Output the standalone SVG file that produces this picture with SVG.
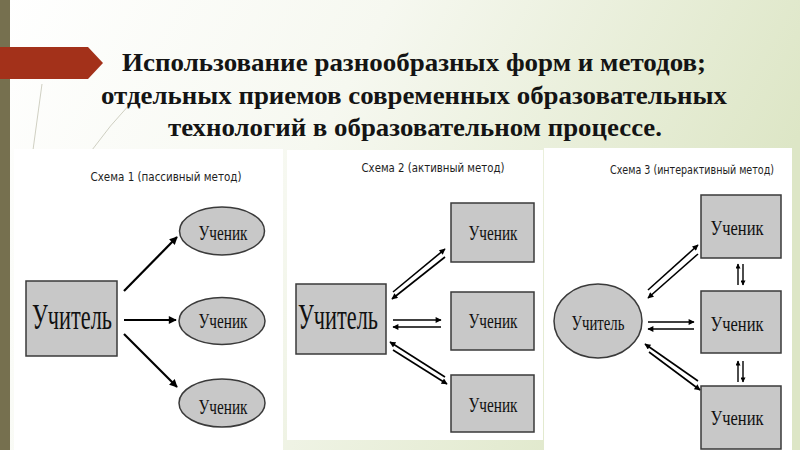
<svg xmlns="http://www.w3.org/2000/svg" width="800" height="450" viewBox="0 0 800 450">
<defs>
<linearGradient id="bg" x1="0" y1="0" x2="1" y2="0.3">
<stop offset="0" stop-color="#ffffff"/>
<stop offset="0.45" stop-color="#f6f8f0"/>
<stop offset="1" stop-color="#dde6c6"/>
</linearGradient>
<marker id="ah" viewBox="0 0 10 10" refX="9" refY="5" markerWidth="10" markerHeight="8" markerUnits="userSpaceOnUse" orient="auto">
<path d="M0,0 L10,5 L0,10 Z" fill="#000"/>
</marker>
<marker id="ahs" viewBox="0 0 10 10" refX="9" refY="5" markerWidth="8" markerHeight="6" markerUnits="userSpaceOnUse" orient="auto">
<path d="M0,0 L10,5 L0,10 Z" fill="#000"/>
</marker>
<marker id="aht" viewBox="0 0 10 10" refX="9" refY="5" markerWidth="6" markerHeight="5" markerUnits="userSpaceOnUse" orient="auto">
<path d="M0,0 L10,5 L0,10 Z" fill="#000"/>
</marker>
</defs>
<style>
.title{font-family:"Liberation Serif","Times New Roman",serif;font-weight:bold;font-size:26px;fill:#141414;text-anchor:middle}
.cap{font-family:"Liberation Sans Narrow","DejaVu Sans Condensed","Liberation Sans",sans-serif;font-size:13px;fill:#1e1e1e;text-anchor:middle}
.lbl{font-family:"Liberation Serif","Times New Roman",serif;fill:#111;text-anchor:middle}
.box{fill:#c8c8c8;stroke:#3a3a3a;stroke-width:1.5}
.panel{fill:#ffffff}
.a1{stroke:#000;stroke-width:2.2;fill:none;marker-end:url(#ah)}
.a2{stroke:#000;stroke-width:1.6;fill:none;marker-end:url(#ahs)}
.a3{stroke:#000;stroke-width:1.4;fill:none;marker-end:url(#aht)}
.deco{stroke:#c4c4b4;stroke-width:0.8;fill:none}
</style>
<rect x="0" y="0" width="800" height="450" fill="url(#bg)"/>
<path class="deco" d="M42,84 L33,150"/>
<path class="deco" d="M130,104 Q110,125 92,150"/>
<rect x="0" y="0" width="10" height="450" fill="#76704f"/>
<path d="M0,47 L88,47 L103,63 L88,79 L0,79 Z" fill="#a3311a"/>
<g id="title">
<text class="title" x="414" y="71" textLength="584" lengthAdjust="spacingAndGlyphs">Использование разнообразных форм и методов;</text>
<text class="title" x="414" y="104" textLength="626" lengthAdjust="spacingAndGlyphs">отдельных приемов современных образовательных</text>
<text class="title" x="415" y="136" textLength="494" lengthAdjust="spacingAndGlyphs">технологий в образовательном процессе.</text>
</g>
<rect class="panel" x="14" y="149" width="269" height="301"/>
<rect class="panel" x="287" y="150" width="256" height="290"/>
<rect class="panel" x="544" y="148" width="248" height="302"/>
<g id="scheme1">
<text class="cap" x="166" y="181" textLength="151" lengthAdjust="spacingAndGlyphs">Схема 1 (пассивный метод)</text>
<g id="s1-teacher"><rect class="box" x="26" y="281" width="91" height="75"/><text class="lbl" x="72" y="329" font-size="36" textLength="80" lengthAdjust="spacingAndGlyphs">Учитель</text></g>
<g id="s1-student1"><ellipse class="box" cx="222" cy="231" rx="42.5" ry="24"/><text class="lbl" x="223" y="240" font-size="21" textLength="49" lengthAdjust="spacingAndGlyphs">Ученик</text></g>
<g id="s1-student2"><ellipse class="box" cx="222" cy="321" rx="43" ry="23.5"/><text class="lbl" x="223" y="328" font-size="21" textLength="49" lengthAdjust="spacingAndGlyphs">Ученик</text></g>
<g id="s1-student3"><ellipse class="box" cx="222" cy="403" rx="43" ry="24"/><text class="lbl" x="223" y="414" font-size="21" textLength="49" lengthAdjust="spacingAndGlyphs">Ученик</text></g>
</g>
<g id="scheme2">
<text class="cap" x="433" y="172" textLength="143" lengthAdjust="spacingAndGlyphs">Схема 2 (активный метод)</text>
<g id="s2-teacher"><rect class="box" x="296" y="284" width="90" height="70"/><text class="lbl" x="338" y="329" font-size="35" textLength="80" lengthAdjust="spacingAndGlyphs">Учитель</text></g>
<g id="s2-student1"><rect class="box" x="451" y="203" width="83" height="59"/><text class="lbl" x="493" y="240" font-size="21" textLength="49" lengthAdjust="spacingAndGlyphs">Ученик</text></g>
<g id="s2-student2"><rect class="box" x="451" y="292" width="83" height="58"/><text class="lbl" x="493" y="328" font-size="21" textLength="49" lengthAdjust="spacingAndGlyphs">Ученик</text></g>
<g id="s2-student3"><rect class="box" x="451" y="375" width="83" height="57"/><text class="lbl" x="493" y="412" font-size="21" textLength="49" lengthAdjust="spacingAndGlyphs">Ученик</text></g>
</g>
<g id="scheme3">
<text class="cap" x="692" y="174" textLength="164" lengthAdjust="spacingAndGlyphs">Схема 3 (интерактивный метод)</text>
<g id="s3-teacher"><ellipse class="box" cx="598" cy="321" rx="44" ry="37"/><text class="lbl" x="598" y="330" font-size="21" textLength="53" lengthAdjust="spacingAndGlyphs">Учитель</text></g>
<g id="s3-student1"><rect class="box" x="701" y="195" width="80" height="63"/><text class="lbl" x="737" y="235" font-size="21" textLength="53" lengthAdjust="spacingAndGlyphs">Ученик</text></g>
<g id="s3-student2"><rect class="box" x="701" y="291" width="80" height="62"/><text class="lbl" x="737" y="331" font-size="21" textLength="53" lengthAdjust="spacingAndGlyphs">Ученик</text></g>
<g id="s3-student3"><rect class="box" x="701" y="386" width="80" height="63"/><text class="lbl" x="737" y="425" font-size="21" textLength="53" lengthAdjust="spacingAndGlyphs">Ученик</text></g>
</g>
<g id="connectors">
<line class="a1" x1="124" y1="291" x2="177" y2="237"/>
<line class="a1" x1="124" y1="320" x2="176" y2="320"/>
<line class="a1" x1="124" y1="334" x2="177" y2="387"/>
<line class="a2" x1="393" y1="292" x2="445" y2="249"/>
<line class="a2" x1="445" y1="257" x2="392" y2="299"/>
<line class="a2" x1="393" y1="320" x2="441" y2="320"/>
<line class="a2" x1="441" y1="327" x2="393" y2="327"/>
<line class="a2" x1="445" y1="377" x2="390" y2="342"/>
<line class="a2" x1="393" y1="350" x2="447" y2="384"/>
<line class="a2" x1="648" y1="290" x2="698" y2="245"/>
<line class="a2" x1="698" y1="254" x2="648" y2="298"/>
<line class="a2" x1="648" y1="322" x2="694" y2="322"/>
<line class="a2" x1="694" y1="329" x2="648" y2="329"/>
<line class="a2" x1="698" y1="381" x2="645" y2="344"/>
<line class="a2" x1="649" y1="352" x2="700" y2="390"/>
<line class="a3" x1="738" y1="285" x2="738" y2="264"/>
<line class="a3" x1="743" y1="264" x2="743" y2="285"/>
<line class="a3" x1="738" y1="382" x2="738" y2="361"/>
<line class="a3" x1="743" y1="361" x2="743" y2="382"/>
</g>
</svg>
